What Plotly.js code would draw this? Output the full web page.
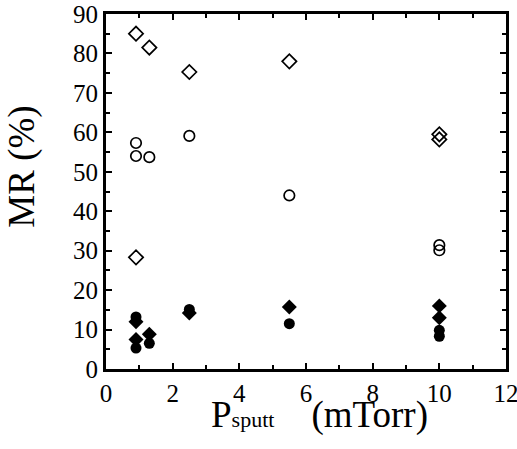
<!DOCTYPE html>
<html>
<head>
<meta charset="utf-8">
<script src="https://cdn.plot.ly/plotly-3.0.1.min.js"></script>
<style>html,body{margin:0;padding:0;background:#fff;} #chart{width:517px;height:449px;}</style>
</head>
<body>
<div id="chart"></div>
<script>
// Open diamonds
const openDiamondX = [0.9, 1.3, 2.5, 5.5, 10, 10, 0.9];
const openDiamondY = [85, 81.5, 75.3, 78, 59.5, 58.2, 28.3];
// Open circles
const openCircleX = [0.9, 0.9, 1.3, 2.5, 5.5, 10, 10];
const openCircleY = [57.3, 54, 53.7, 59.1, 44, 31.4, 30.1];
// Filled diamonds
const fillDiamondX = [0.9, 0.9, 1.3, 2.5, 5.5, 10, 10];
const fillDiamondY = [12, 7.5, 8.8, 14.2, 15.7, 16, 13];
// Filled circles
const fillCircleX = [0.9, 0.9, 1.3, 2.5, 5.5, 10, 10];
const fillCircleY = [13.2, 5.3, 6.5, 15.1, 11.5, 9.8, 8.3];

const xTitle = 'P<span style="font-size:22px">sputt</span>    (mTorr)';
const yTitle = 'MR (%)';

const FAM = 'Liberation Serif';

function tr(x, y, sym, size, filled) {
  return {
    x: x, y: y, type: 'scatter', mode: 'markers', showlegend: false,
    marker: {
      symbol: sym, size: size, color: '#000',
      line: {color: '#000', width: filled ? 0 : 1.7}
    },
    cliponaxis: false
  };
}

const data = [
  tr(openDiamondX, openDiamondY, 'diamond-open', 11, false),
  tr(openCircleX, openCircleY, 'circle-open', 10.5, false),
  tr(fillDiamondX, fillDiamondY, 'diamond', 11.5, true),
  tr(fillCircleX, fillCircleY, 'circle', 11, true)
];

const layout = {
  width: 517, height: 449,
  margin: {l: 106, r: 11, t: 14, b: 80},
  paper_bgcolor: '#fff', plot_bgcolor: '#fff',
  font: {family: FAM, color: '#000'},
  xaxis: {
    range: [0, 12], dtick: 2, tick0: 0,
    ticks: 'inside', ticklen: 6, tickwidth: 2, tickcolor: '#000',
    minor: {dtick: 1, ticks: 'inside', ticklen: 4, tickwidth: 2, tickcolor: '#000'},
    showline: true, linewidth: 3, linecolor: '#000', mirror: 'ticks',
    showgrid: false, zeroline: false,
    ticklabeloverflow: 'allow',
    tickfont: {family: FAM, size: 25, color: '#000'}
  },
  yaxis: {
    range: [0, 90], dtick: 10, tick0: 0,
    ticks: 'inside', ticklen: 6, tickwidth: 2, tickcolor: '#000',
    minor: {dtick: 5, ticks: 'inside', ticklen: 4, tickwidth: 2, tickcolor: '#000'},
    showline: true, linewidth: 3, linecolor: '#000', mirror: 'ticks',
    showgrid: false, zeroline: false,
    ticklabeloverflow: 'allow',
    tickfont: {family: FAM, size: 25, color: '#000'}
  },
  annotations: [
    {text: xTitle, xref: 'paper', yref: 'paper', x: 0.5325, y: -0.065, xanchor: 'center', yanchor: 'top',
     showarrow: false, font: {family: FAM, size: 37, color: '#000'}},
    {text: yTitle, xref: 'paper', yref: 'paper', x: -0.21, y: 0.57, xanchor: 'center', yanchor: 'middle',
     textangle: -90, showarrow: false, font: {family: FAM, size: 37, color: '#000'}}
  ]
};

Plotly.newPlot('chart', data, layout, {displayModeBar: false, staticPlot: true});
</script>
</body>
</html>
